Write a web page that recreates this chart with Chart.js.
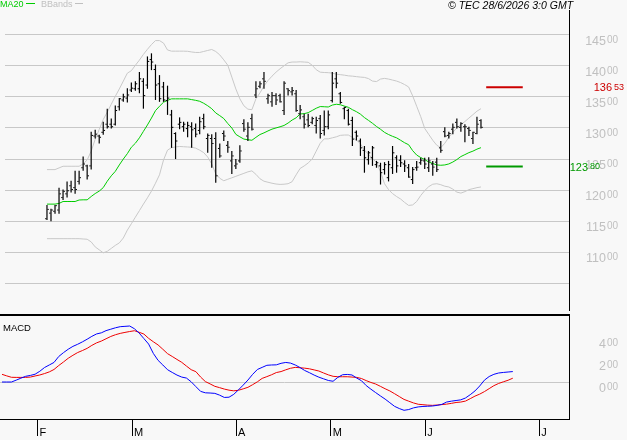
<!DOCTYPE html>
<html>
<head>
<meta charset="utf-8">
<script src="https://cdn.jsdelivr.net/npm/chart.js@4.4.1/dist/chart.umd.min.js"></script>
<style>
    body { margin: 0; background: #f8f8f8; }
    #wrap { position: relative; width: 627px; height: 440px; overflow: hidden; background: #f8f8f8; font-family: 'Liberation Sans', Arial, sans-serif; }
    canvas { position: absolute; left: 0; }
    #main { top: 0; }
    #macd { top: 314px; }
    .txt { position: absolute; white-space: nowrap; line-height: 1; }
    .dash { display: inline-block; height: 1px; vertical-align: middle; margin-left: 2px; margin-bottom: 2px; }
</style>
</head>
<body>
<div id="wrap">
    <canvas id="main" width="627" height="315"></canvas>
    <canvas id="macd" width="627" height="126"></canvas>
    <div class="txt" style="left:0;top:0;font-size:9px;color:#00cc00">MA20<span class="dash" style="width:9px;background:#00cc00"></span></div>
    <div class="txt" style="left:41px;top:0;font-size:9px;color:#c0c0c0">BBands<span class="dash" style="width:8px;background:#c0c0c0"></span></div>
    <div class="txt" style="left:448px;top:0;font-size:10.5px;font-style:italic;color:#000">© TEC 28/6/2026 3:0 GMT</div>
    <div class="txt" style="left:3px;top:323px;font-size:9.5px;color:#000">MACD</div>
</div>
<script>
// daily bars, one per trading day (Jan 21 -> Jun 26)
const opens = [115.4,116.3,116.6,116.8,118.8,119.4,120.7,120.4,121.4,123.6,123.9,123.9,128.7,128.7,129.3,130.6,130.6,130.6,133.4,134.5,
    134.8,136.1,136.3,136.3,137.5,136.9,141.0,139.4,137.1,136.6,134.4,132.1,129.1,130.6,130.2,129.9,130.2,129.9,129.6,131.5,
    128.3,128.3,128.3,126.7,129.1,127.2,124.7,123.9,124.7,130.7,128.7,131.5,135.3,136.7,137.9,134.7,134.2,135.2,135.2,132.8,
    136.3,135.8,135.5,132.3,131.8,131.3,130.9,130.4,131.5,129.6,130.2,134.4,137.9,135.5,133.1,132.8,131.2,129.3,127.9,126.4,
    124.9,125.2,124.1,123.9,123.3,122.0,123.6,125.2,124.8,124.2,123.6,121.7,123.6,124.4,124.7,123.6,124.2,124.5,126.8,129.4,
    128.8,129.8,130.9,130.1,130.2,129.9,128.3,129.1,131.2];
const highs = [117.6,117.0,117.6,120.4,120.1,121.4,121.5,123.1,123.1,125.4,124.1,129.4,129.7,128.9,131.0,133.1,131.5,133.6,134.8,135.5,
    136.4,137.3,137.5,139.0,138.0,141.5,142.0,140.2,138.5,137.4,136.8,132.9,129.3,131.7,131.0,131.0,130.9,130.7,131.8,132.3,
    129.1,129.0,129.3,127.5,129.6,127.9,126.3,125.0,127.2,131.4,130.9,132.3,137.5,137.5,139.0,135.5,135.8,135.6,135.5,137.5,
    136.4,136.6,136.1,133.7,132.3,132.3,131.8,131.8,132.1,132.8,132.8,139.0,139.0,135.8,133.4,133.1,131.8,129.6,128.3,127.1,
    126.3,127.1,124.7,124.4,124.5,124.7,127.1,125.6,125.6,124.8,124.2,123.7,124.7,125.2,125.2,125.3,124.7,125.2,127.9,130.1,
    129.4,130.7,131.5,130.9,130.6,130.2,129.4,131.8,131.4];
const lows = [115.2,115.0,116.2,116.2,118.4,118.8,119.6,119.4,120.9,123.1,121.7,123.3,128.3,127.5,128.9,129.9,129.9,130.4,132.8,134.2,
    134.1,135.8,136.0,135.6,133.1,136.3,139.3,134.5,134.2,134.2,132.1,126.8,125.0,129.8,129.4,128.5,126.8,128.5,129.0,129.8,
    126.0,123.6,121.2,125.2,127.9,126.0,122.6,123.4,124.4,129.4,127.9,129.6,134.8,136.4,136.3,133.9,133.4,133.7,134.1,132.1,
    135.2,135.2,132.6,131.4,129.9,130.1,130.6,129.1,128.3,128.8,129.8,134.1,136.4,133.9,131.4,130.4,127.1,128.0,125.5,122.8,
    124.1,123.9,123.6,120.9,122.5,121.4,122.6,122.8,123.7,122.9,122.0,121.0,123.1,124.1,123.4,122.9,122.3,122.9,126.0,128.5,
    128.3,129.0,129.9,129.4,127.7,128.7,127.4,129.0,129.9];
const closes = [116.9,116.8,117.5,119.4,119.8,119.9,120.1,120.1,122.0,124.2,122.3,128.8,129.0,128.5,129.6,130.2,130.2,132.8,134.7,135.0,
    135.3,136.4,137.1,137.9,135.2,140.7,140.6,136.9,134.7,134.5,134.8,130.1,127.9,130.9,130.6,130.4,129.7,129.0,131.0,130.2,
    128.8,127.5,122.3,125.5,128.7,126.9,125.5,124.2,126.3,129.8,130.1,129.8,136.3,137.1,137.5,135.2,135.2,134.5,134.2,137.2,
    136.0,136.0,132.8,132.9,130.6,130.4,131.5,131.2,129.1,130.2,132.1,137.2,137.2,134.1,133.3,130.6,128.2,128.7,126.8,125.2,
    126.0,126.8,124.4,122.8,124.1,124.1,126.0,123.9,124.4,123.9,122.1,123.3,123.7,124.8,124.2,124.7,123.7,123.3,126.4,128.7,
    129.1,130.1,130.2,130.7,130.2,129.6,129.3,130.6,130.1];

const ma20 = [117.75,117.75,117.75,117.86,118.17,118.17,118.17,118.17,118.41,118.44,118.44,118.97,119.45,119.84,120.40,121.43,122.30,123.02,124.05,125.00,
    125.87,126.90,127.54,128.41,129.45,130.48,131.59,132.78,133.49,134.13,134.44,134.68,134.68,134.68,134.68,134.68,134.56,134.44,134.29,133.97,
    133.57,133.10,132.41,131.98,131.51,130.71,130.00,128.97,128.57,128.21,128.10,128.02,128.49,128.94,129.21,129.52,129.81,130.00,130.19,130.40,
    130.79,131.27,131.63,132.25,132.30,132.46,132.81,133.17,133.44,133.41,133.37,133.68,133.81,133.73,133.52,133.32,132.94,132.62,132.22,131.67,
    131.22,130.75,130.24,129.79,129.29,128.94,128.65,128.41,128.02,127.62,127.30,126.35,125.64,125.24,124.92,124.52,124.29,124.05,124.00,124.05,
    124.21,124.52,124.92,125.40,125.71,126.03,126.27,126.59,126.83];
const bbUpper = [123.30,123.30,123.30,123.57,123.84,123.84,123.84,123.84,123.84,124.21,124.84,126.27,128.18,129.76,131.35,132.54,133.81,135.08,136.27,137.54,
    138.81,139.21,140.08,140.91,141.83,142.65,143.41,144.05,144.05,143.65,142.54,142.35,142.35,142.35,142.35,142.33,142.22,142.14,142.14,142.30,
    142.46,142.62,142.30,141.75,140.95,140.08,138.18,136.27,134.68,133.57,133.02,132.94,134.68,135.64,136.75,137.62,138.33,138.97,139.52,140.00,
    140.48,140.60,140.60,140.64,140.60,140.56,140.08,139.37,138.97,138.92,138.89,138.81,138.65,138.57,138.49,138.38,138.33,138.25,138.18,138.13,
    137.94,137.54,137.46,137.86,137.97,137.86,137.70,137.54,137.30,136.98,136.59,135.16,133.49,131.83,129.92,128.97,128.02,127.22,126.83,127.54,
    128.49,129.29,130.00,130.56,131.03,131.59,132.14,132.70,133.10];
const bbLower = [112.19,112.19,112.19,112.19,112.19,112.19,112.19,112.19,112.19,112.14,112.10,111.67,110.87,110.40,109.92,110.16,110.63,111.11,111.51,112.30,
    113.57,114.60,115.65,116.70,117.75,118.76,119.84,121.11,122.46,124.84,126.43,126.83,126.95,127.02,126.98,126.94,126.90,126.75,126.43,126.03,
    125.32,124.21,122.62,121.90,121.51,121.75,121.98,122.22,122.46,122.70,122.94,123.10,122.54,121.83,121.43,121.27,121.11,120.98,120.92,120.95,
    121.03,121.35,122.46,123.49,123.89,124.37,125.00,126.27,127.54,128.25,128.25,128.41,128.57,128.81,128.86,128.86,128.49,128.06,127.46,126.43,
    125.79,125.08,124.44,122.94,121.03,120.08,119.44,118.97,118.57,118.02,117.54,117.62,118.17,119.13,119.92,120.56,120.95,121.03,120.87,120.63,
    120.51,120.16,119.68,119.52,119.76,120.08,120.24,120.40,120.51];

const macdLine = [0.00,0.00,0.00,0.17,0.35,0.52,0.60,0.71,0.98,1.32,1.55,1.78,2.32,2.67,2.98,3.24,3.43,3.65,3.89,4.15,
    4.37,4.47,4.67,4.80,4.93,5.03,5.06,5.09,4.84,4.45,3.95,3.45,2.60,1.97,1.55,1.12,0.87,0.63,0.45,0.36,
    0.02,-0.42,-0.85,-0.98,-1.00,-1.03,-1.19,-1.40,-1.38,-1.12,-0.71,-0.28,0.18,0.70,1.14,1.33,1.52,1.55,1.56,1.70,
    1.78,1.72,1.55,1.32,1.05,0.85,0.63,0.44,0.29,0.14,0.07,0.42,0.66,0.69,0.64,0.36,0.12,-0.32,-0.65,-0.96,
    -1.26,-1.55,-1.88,-2.21,-2.41,-2.57,-2.50,-2.35,-2.26,-2.22,-2.20,-2.18,-2.12,-2.03,-1.82,-1.74,-1.68,-1.62,-1.45,-1.15,
    -0.81,-0.36,0.17,0.50,0.70,0.82,0.87,0.91,0.95];
const signalLine = [0.70,0.56,0.43,0.42,0.42,0.42,0.45,0.55,0.64,0.77,0.92,1.14,1.50,1.82,2.16,2.43,2.68,2.86,3.06,3.33,
    3.56,3.72,3.93,4.14,4.30,4.42,4.51,4.59,4.66,4.52,4.36,3.97,3.66,3.37,2.98,2.58,2.32,2.05,1.79,1.45,
    1.12,0.94,0.45,0.04,-0.17,-0.39,-0.51,-0.64,-0.74,-0.80,-0.75,-0.62,-0.48,-0.24,0.02,0.33,0.49,0.66,0.86,0.95,
    1.11,1.25,1.33,1.30,1.26,1.20,1.10,1.00,0.82,0.65,0.52,0.48,0.48,0.48,0.45,0.42,0.32,0.13,-0.04,-0.18,
    -0.39,-0.61,-0.81,-1.06,-1.32,-1.58,-1.74,-1.90,-2.02,-2.06,-2.10,-2.12,-2.09,-2.05,-2.01,-1.94,-1.86,-1.82,-1.73,-1.51,
    -1.28,-1.10,-0.87,-0.60,-0.33,-0.13,0.02,0.16,0.35];

const resistance = 136.53;
const support = 123.80;

// axis ticks
const priceGrid = [105, 110, 115, 120, 125, 130, 135, 140, 145];
const priceLabels = [110, 115, 120, 125, 130, 135, 140, 145];
const macdLabels = [0, 2, 4];
const monthLabels = ['F', 'M', 'A', 'M', 'J', 'J'];
const monthTicks = [7.5, 27.5, 49.5, 69.5, 89.5, 113.6];

const X_MIN = -0.42, X_MAX = 119.88;
const TICK = 0.28;              // open/close tick offset, in bar slots
const LEVEL_X = [109.3, 118.4]; // span of the support/resistance marks
const AXIS_W = 58;
const GRID = '#c8c8c8';

const xy = arr => arr.map((v, i) => ({ x: i, y: v }));

function splitNum(v) {
    const parts = v.toFixed(2).split('.');
    return { int: parts[0], dec: parts[1] };
}

// right side labels: big integer part, small raised decimals
function drawSplit(ctx, v, y, o) {
    const p = splitNum(v);
    ctx.save();
    ctx.fillStyle = o.color;
    ctx.textBaseline = 'alphabetic';
    ctx.font = o.intSize + 'px "Liberation Sans", Arial, sans-serif';
    ctx.textAlign = 'right';
    ctx.fillText(p.int, o.intRight, y + o.intDy);
    ctx.font = o.decSize + 'px "Liberation Sans", Arial, sans-serif';
    ctx.textAlign = 'left';
    ctx.fillText(p.dec, o.decLeft, y + o.decDy);
    ctx.restore();
}

const axisStyle = { color: '#c0c0c0', intSize: 12.5, decSize: 10, intRight: 606, decLeft: 607, intDy: 10, decDy: 8 };

const priceLabelPlugin = {
    id: 'priceLabels',
    afterDraw(chart) {
        const ctx = chart.ctx;
        const y = chart.scales.y;
        priceLabels.forEach(v => drawSplit(ctx, v, y.getPixelForValue(v), axisStyle));
        drawSplit(ctx, resistance, y.getPixelForValue(resistance),
            { color: '#cc0000', intSize: 11, decSize: 9, intRight: 612, decLeft: 614, intDy: 4, decDy: 3 });
        drawSplit(ctx, support, y.getPixelForValue(support),
            { color: '#009900', intSize: 11, decSize: 9, intRight: 588, decLeft: 590, intDy: 4.5, decDy: 3 });
    }
};

const macdLabelPlugin = {
    id: 'macdLabels',
    afterDraw(chart) {
        const ctx = chart.ctx;
        const y = chart.scales.y;
        macdLabels.forEach(v => drawSplit(ctx, v, y.getPixelForValue(v), axisStyle));
        // separator between the two panels
        ctx.save();
        ctx.fillStyle = '#000';
        ctx.fillRect(0, 0, chart.chartArea.right + 1, 2);
        ctx.restore();
    }
};

new Chart(document.getElementById('main'), {
    data: {
        datasets: [{
            type: 'bar',
            label: 'High-Low',
            data: highs.map((h, i) => ({ x: i, y: [lows[i], h] })),
            backgroundColor: '#000',
            barThickness: 1.2,
            inflateAmount: 0,
            order: 0
        }, {
            type: 'line',
            label: 'Open',
            data: opens.map((v, i) => ({ x: i - TICK, y: v })),
            showLine: false,
            pointStyle: 'line',
            pointRadius: 0.7,
            pointBorderWidth: 1,
            pointBorderColor: '#000',
            order: 0
        }, {
            type: 'line',
            label: 'Close',
            data: closes.map((v, i) => ({ x: i + TICK, y: v })),
            showLine: false,
            pointStyle: 'line',
            pointRadius: 0.7,
            pointBorderWidth: 1,
            pointBorderColor: '#000',
            order: 0
        }, {
            type: 'line',
            label: 'MA20',
            data: xy(ma20),
            borderColor: '#00cc00',
            borderWidth: 1,
            pointRadius: 0,
            order: 1
        }, {
            type: 'line',
            label: 'BBands up',
            data: xy(bbUpper),
            borderColor: GRID,
            borderWidth: 1,
            pointRadius: 0,
            order: 2
        }, {
            type: 'line',
            label: 'BBands down',
            data: xy(bbLower),
            borderColor: GRID,
            borderWidth: 1,
            pointRadius: 0,
            order: 2
        }, {
            type: 'line',
            label: 'Resistance',
            data: LEVEL_X.map(x => ({ x: x, y: resistance })),
            borderColor: '#cc0000',
            borderWidth: 2,
            pointRadius: 0,
            order: 1
        }, {
            type: 'line',
            label: 'Support',
            data: LEVEL_X.map(x => ({ x: x, y: support })),
            borderColor: '#009900',
            borderWidth: 2,
            pointRadius: 0,
            order: 1
        }]
    },
    options: {
        responsive: false,
        animation: false,
        events: [],
        layout: { padding: { top: 10, bottom: 1, left: 0, right: 0 } },
        plugins: { legend: { display: false }, tooltip: { enabled: false } },
        scales: {
            x: { type: 'linear', min: X_MIN, max: X_MAX, display: false },
            y: {
                position: 'right',
                min: 100.72,
                max: 148.97,
                afterBuildTicks: ax => { ax.ticks = priceGrid.map(v => ({ value: v })); },
                afterFit: ax => { ax.width = AXIS_W; },
                ticks: { display: false },
                grid: { color: GRID, drawTicks: false },
                border: { display: true, color: '#000', width: 1 }
            }
        }
    },
    plugins: [priceLabelPlugin]
});

new Chart(document.getElementById('macd'), {
    data: {
        datasets: [{
            type: 'line',
            label: 'MACD',
            data: xy(macdLine),
            borderColor: '#0000ff',
            borderWidth: 1,
            pointRadius: 0
        }, {
            type: 'line',
            label: 'Signal',
            data: xy(signalLine),
            borderColor: '#ee0000',
            borderWidth: 1,
            pointRadius: 0
        }]
    },
    options: {
        responsive: false,
        animation: false,
        events: [],
        layout: { padding: { top: 2, bottom: 0, left: 0, right: 0 } },
        plugins: { legend: { display: false }, tooltip: { enabled: false } },
        scales: {
            x: {
                type: 'linear',
                min: X_MIN,
                max: X_MAX,
                afterBuildTicks: ax => { ax.ticks = monthTicks.map(v => ({ value: v })); },
                afterFit: ax => { ax.height = 21; },
                ticks: {
                    callback: (v, i) => monthLabels[i],
                    align: 'start',
                    labelOffset: 2,
                    padding: -10,
                    color: '#000',
                    font: { size: 11, family: '"Liberation Sans", Arial, sans-serif' },
                    maxRotation: 0,
                    autoSkip: false
                },
                grid: { drawOnChartArea: false, drawTicks: true, tickLength: 17, color: '#000' },
                border: { display: true, color: '#000' }
            },
            y: {
                position: 'right',
                min: -3.36,
                max: 6.0,
                afterBuildTicks: ax => { ax.ticks = [{ value: 0 }]; },
                afterFit: ax => { ax.width = AXIS_W; },
                ticks: { display: false },
                grid: { color: GRID, drawTicks: false },
                border: { display: true, color: '#000', width: 1 }
            }
        }
    },
    plugins: [macdLabelPlugin]
});
</script>
</body>
</html>
